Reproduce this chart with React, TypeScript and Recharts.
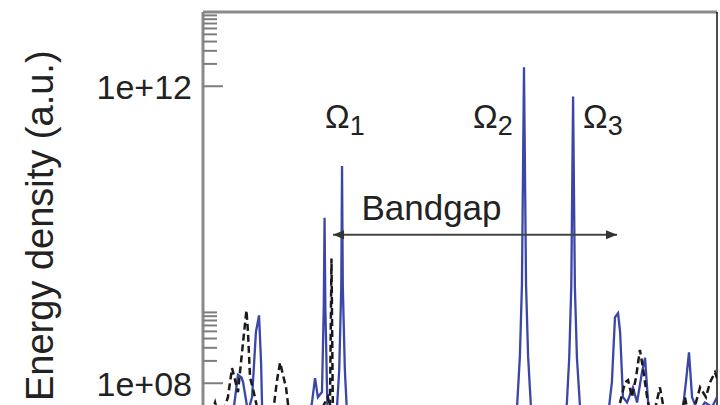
import { Label, Line, LineChart, ReferenceDot, ReferenceLine, XAxis, YAxis } from "recharts";

// frequency in arbitrary units, energy density in a.u. (log scale)
const blueFreq = [
	0, 0.47, 0.97, 1.13, 1.36, 1.5, 1.56, 1.75, 1.91, 2.06, 2.18, 2.26, 2.33, 2.61, 3.39, 3.97, 4.24, 4.36, 4.47, 4.63,
	4.7, 4.73, 4.76, 4.86, 4.94, 5.18, 5.3, 5.38, 5.41, 5.44, 5.52, 5.64, 6.11, 9.61, 11.71, 12.1, 12.22, 12.33, 12.41,
	12.49, 12.57, 12.65, 12.76, 12.88, 13.27, 13.65, 14.01, 14.16, 14.25, 14.33, 14.4, 14.47, 14.55, 14.67, 14.79, 15.2,
	15.64, 15.91, 16.03, 16.15, 16.23, 16.34, 16.5, 16.73, 16.89, 17.08, 17.2, 17.32, 17.59, 18.17, 18.68, 18.79, 18.91,
	19.03, 19.26, 19.53, 19.81, 20,
];
const blueEnergy = [
	1.6e7, 3.0e7, 2.2e7, 3.0e7, 1.3e8, 1.2e8, 1.03e8, 4.1e7, 6.5e7, 4.9e8, 8.2e8, 1.9e8, 1.6e7, 1.4e7, 2.2e7, 1.6e7,
	5.5e7, 1.17e8, 6.5e7, 7.6e7, 1.1e9, 1.7e10, 1.1e9, 2.2e7, 1.6e7, 3.0e7, 1.5e8, 2.0e9, 8.4e10, 2.0e9, 1.5e8, 2.2e7,
	5e6, 2e6, 5e6, 2.2e7, 4.8e7, 2.3e8, 2.1e9, 1.8e12, 2.1e9, 2.3e8, 4.8e7, 2.2e7, 5e6, 5e6, 2.2e7, 5.5e7, 2.2e8, 2.0e9,
	7.3e11, 2.0e9, 2.2e8, 4.8e7, 2.2e7, 5e6, 1.6e7, 1.03e8, 7.7e8, 8.8e8, 4.9e8, 6.5e7, 5.5e7, 8.8e7, 5.5e7, 1.4e8,
	2.2e8, 5.5e7, 2.2e7, 1.6e7, 4.8e7, 1.03e8, 2.6e8, 6.5e7, 4.1e7, 5.5e7, 4.8e7, 6.5e7,
];

const blackFreq = [
	0, 0.35, 0.47, 0.66, 0.97, 1.13, 1.25, 1.36, 1.6, 1.69, 1.75, 1.83, 1.91, 2.02, 2.3, 2.68, 2.88, 3.0, 3.11, 3.23,
	3.39, 3.97, 4.55, 4.86, 4.94, 5.0, 5.06, 5.3, 9.6, 15.2, 15.84, 16.23, 16.42, 16.54, 16.69, 16.85, 17.0, 17.12,
	17.28, 17.47, 17.78, 18.09, 18.56, 18.75, 18.95, 19.18, 19.34, 19.57, 19.73, 19.92, 20,
];
const blackEnergy = [
	1.4e7, 4.1e7, 5.5e7, 3.0e7, 6.5e7, 1.6e8, 1.1e8, 7.6e7, 4.9e8, 9.6e8, 4.9e8, 1.2e8, 9.4e7, 6.5e7, 2.2e7, 3.0e7,
	1.1e8, 1.9e8, 1.3e8, 8.8e7, 3.0e7, 1.6e7, 4.1e7, 6.5e7, 4.8e7, 4.8e9, 2.2e7, 5e6, 2e6, 3e6, 2.2e7, 5.5e7, 1.03e8,
	1.1e8, 6.5e7, 1.2e8, 2.8e8, 1.6e8, 6.5e7, 3.0e7, 8.8e7, 2.2e7, 3.0e7, 6.5e7, 3.0e7, 5.5e7, 8.8e7, 6.5e7, 1.03e8,
	1.4e8, 1.17e8,
];

const MAJOR_TICKS = [1e8, 1e12];
const MAJOR_LABELS = ["1e+08", "1e+12"];
const MINOR_TICKS = [2e8, 3e8, 4e8, 5e8, 6e8, 7e8, 8e8, 9e8, 2e12, 3e12, 4e12, 5e12, 6e12, 7e12, 8e12, 9e12];

const bandgapFrom = 5.06;
const bandgapTo = 16.11;
const bandgapLevel = 1e10;

const modes = [
	{ name: "Ω", sub: "1", freq: 4.75 },
	{ name: "Ω", sub: "2", freq: 10.51 },
	{ name: "Ω", sub: "3", freq: 14.79 },
];
const modeLabelLevel = 2.7e11;

const blueData = blueFreq.map((f, i) => ({ f, v: blueEnergy[i] }));
const blackData = blackFreq.map((f, i) => ({ f, v: blackEnergy[i] }));

const FONT = "'Liberation Sans', Arial, Helvetica, sans-serif";
const TEXT = "#222";

function YTick(props: any) {
	const { x, y, payload } = props;
	const idx = MAJOR_TICKS.indexOf(payload.value);
	const major = idx >= 0;
	return (
		<g>
			<line x1={x} x2={x + (major ? 20 : 14)} y1={y} y2={y} stroke="#7d7d7d" strokeWidth={2} />
			{major && (
				<text x={x - 11} y={y + 13} textAnchor="end" fontSize={34} fontFamily={FONT} fill={TEXT}>
					{MAJOR_LABELS[idx]}
				</text>
			)}
		</g>
	);
}

function YLabel(props: any) {
	const vb = props.viewBox;
	const cx = vb.x + 53;
	const cy = vb.y + vb.height / 2 - 9;
	return (
		<text
			x={cx}
			y={cy}
			transform={`rotate(-90, ${cx}, ${cy})`}
			textAnchor="middle"
			fontSize={38}
			fontFamily={FONT}
			fill={TEXT}
		>
			Energy density (a.u.)
		</text>
	);
}

function BandgapArrow(props: any) {
	const { x1, y1, x2 } = props;
	return (
		<g>
			<line x1={x1} x2={x2} y1={y1} y2={y1} stroke="#444" strokeWidth={2} />
			<polygon points={`${x1},${y1} ${x1 + 11},${y1 - 4.5} ${x1 + 11},${y1 + 4.5}`} fill="#333" />
			<polygon points={`${x2},${y1} ${x2 - 11},${y1 - 4.5} ${x2 - 11},${y1 + 4.5}`} fill="#333" />
		</g>
	);
}

function BandgapText(props: any) {
	return (
		<text x={props.cx} y={props.cy} textAnchor="middle" fontSize={35} fontFamily={FONT} fill={TEXT}>
			Bandgap
		</text>
	);
}

function ModeLabel(name: string, sub: string) {
	return (props: any) => (
		<text x={props.cx} y={props.cy} fontSize={33} fontFamily={FONT} fill={TEXT}>
			{name}
			<tspan fontSize={27} dy={7}>
				{sub}
			</tspan>
		</text>
	);
}

export default function App() {
	return (
		<div style={{ width: 720, height: 405, overflow: "hidden", background: "#fff" }}>
			<style>{"body{margin:0;overflow:hidden}"}</style>
			<LineChart width={720} height={460} margin={{ top: 12, right: 3, bottom: 2.5, left: 0 }}>
				<XAxis dataKey="f" type="number" domain={[0, 20]} allowDataOverflow hide />
				<YAxis
					type="number"
					scale="log"
					domain={[1e7, 1e13]}
					allowDataOverflow
					width={203}
					ticks={[...MAJOR_TICKS, ...MINOR_TICKS]}
					tick={<YTick />}
					tickLine={false}
					tickSize={0}
					tickMargin={0}
					interval={0}
					axisLine={{ stroke: "#8a8a8a", strokeWidth: 3 }}
				>
					<Label content={<YLabel />} />
				</YAxis>
				<ReferenceLine y={1e13} stroke="#8a8a8a" strokeWidth={3} />
				<ReferenceLine x={20} stroke="#111" strokeWidth={1.5} />
				<Line
					data={blueData}
					dataKey="v"
					type="linear"
					stroke="#3a46a8"
					strokeWidth={2.3}
					dot={false}
					isAnimationActive={false}
				/>
				<Line
					data={blackData}
					dataKey="v"
					type="linear"
					stroke="#1a1a1a"
					strokeWidth={2.5}
					strokeDasharray="7 4"
					dot={false}
					isAnimationActive={false}
				/>
				<ReferenceLine
					segment={[
						{ x: bandgapFrom, y: bandgapLevel },
						{ x: bandgapTo, y: bandgapLevel },
					]}
					shape={<BandgapArrow />}
				/>
				<ReferenceDot x={8.89} y={1.57e10} r={0} shape={<BandgapText />} />
				{modes.map((m) => (
					<ReferenceDot key={m.sub} x={m.freq} y={modeLabelLevel} r={0} shape={ModeLabel(m.name, m.sub)} />
				))}
			</LineChart>
		</div>
	);
}
